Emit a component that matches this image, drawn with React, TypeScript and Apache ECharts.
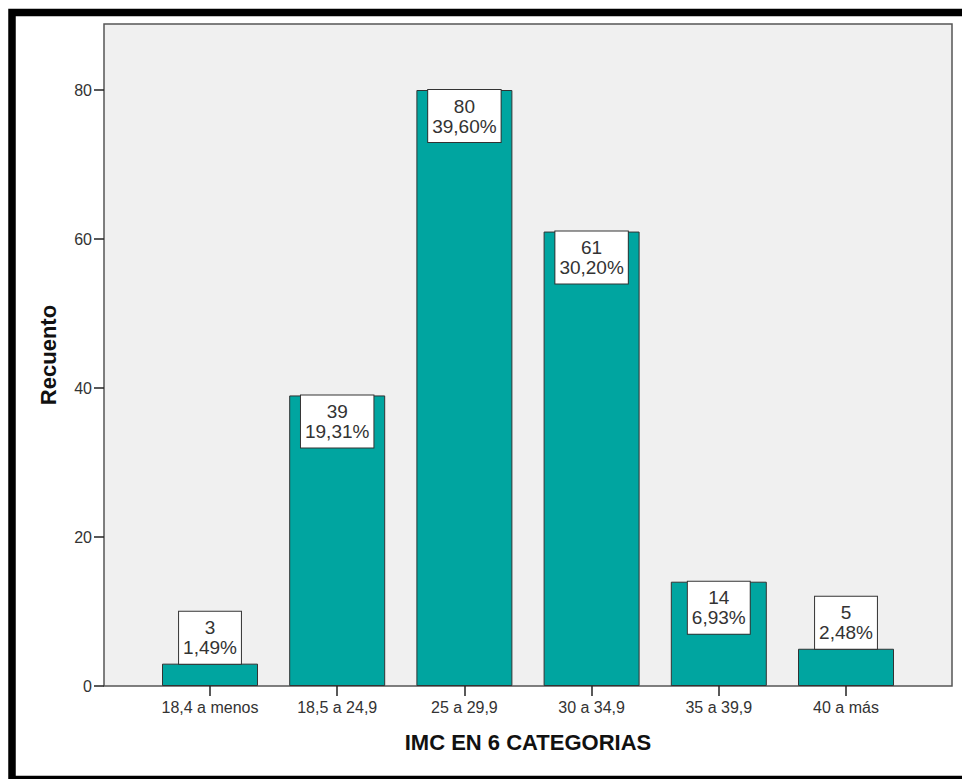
import React, { useEffect, useRef } from "react";
import * as echarts from "echarts";

// IMC categories and their counts / share of the total
const categories = ["18,4 a menos", "18,5 a 24,9", "25 a 29,9", "30 a 34,9", "35 a 39,9", "40 a más"];
const counts = [3, 39, 80, 61, 14, 5];
const percents = ["1,49%", "19,31%", "39,60%", "30,20%", "6,93%", "2,48%"];
const yTickValues = [0, 20, 40, 60, 80];

const yAxisTitle = "Recuento";
const xAxisTitle = "IMC EN 6 CATEGORIAS";

const FONT = "'Liberation Sans', Arial, Helvetica, sans-serif";
const BAR_COLOR = "#00a5a0";

export default function App() {
  const ref = useRef<HTMLDivElement>(null);

  useEffect(() => {
    if (!ref.current) return;
    const chart = echarts.init(ref.current, undefined, { renderer: "svg" });

    const plotLeft = 104;
    const plotRight = 952;
    const plotTop = 24;
    const plotBottom = 686;
    const W = 962;
    const H = 779;
    // categories sit inside the plot with an extra margin on both sides
    const sidePad = 42.4;

    const option: echarts.EChartsOption = {
      animation: false,
      backgroundColor: "#ffffff",
      textStyle: { fontFamily: FONT },
      grid: [
        {
          // framed plot background
          left: plotLeft,
          right: W - plotRight,
          top: plotTop,
          bottom: H - plotBottom,
          show: true,
          backgroundColor: "#f0f0f0",
          borderColor: "#555555",
          borderWidth: 1.5,
          z: 0,
        },
        {
          left: plotLeft + sidePad,
          right: W - plotRight + sidePad,
          top: plotTop,
          bottom: H - plotBottom,
        },
      ],
      xAxis: [
        { gridIndex: 0, type: "value", show: false, min: 0, max: 1 },
        {
          gridIndex: 1,
          type: "category",
          data: categories,
          axisLine: { show: false },
          axisTick: {
            show: true,
            alignWithLabel: true,
            length: 10,
            lineStyle: { color: "#222222", width: 1.5 },
          },
          axisLabel: {
            margin: 13,
            fontSize: 16,
            color: "#333333",
            fontFamily: FONT,
          },
          splitLine: { show: false },
        },
      ],
      yAxis: [
        { gridIndex: 0, type: "value", show: false, min: 0, max: 1 },
        {
          gridIndex: 1,
          type: "value",
          min: 0,
          max: 88.86,
          interval: 20,
          offset: sidePad,
          axisLine: { show: false },
          axisTick: {
            show: true,
            length: 10,
            customValues: yTickValues,
            lineStyle: { color: "#222222", width: 1.5 },
          },
          axisLabel: {
            margin: 12,
            fontSize: 16,
            color: "#333333",
            fontFamily: FONT,
            customValues: yTickValues,
          },
          splitLine: { show: false },
        },
      ],
      series: [
        {
          type: "bar",
          xAxisIndex: 1,
          yAxisIndex: 1,
          barWidth: 96,
          z: 3,
          itemStyle: {
            color: BAR_COLOR,
            borderColor: "#333333",
            borderWidth: 1,
          },
          data: counts.map((v, i) => ({
            value: v,
            label: {
              position: v >= 10 ? "insideTop" : "top",
              formatter: `${v}\n${percents[i]}`,
            },
          })),
          label: {
            show: true,
            distance: 0,
            fontSize: 19,
            lineHeight: 20,
            color: "#333333",
            fontFamily: FONT,
            backgroundColor: "#ffffff",
            borderColor: "#333333",
            borderWidth: 1,
            padding: [6, 4, 6, 4],
            align: "center",
          },
        },
      ],
      graphic: [
        {
          type: "rect",
          silent: true,
          shape: { x: 12, y: 12.5, width: 980, height: 767 },
          style: { fill: "none", stroke: "#000000", lineWidth: 7.5 },
          z: 10,
        },
        {
          type: "text",
          x: 48,
          y: (plotTop + plotBottom) / 2,
          rotation: Math.PI / 2,
          style: {
            text: yAxisTitle,
            fontSize: 22,
            fontWeight: "bold",
            fontFamily: FONT,
            fill: "#111111",
            align: "center",
            verticalAlign: "middle",
          },
        },
        {
          type: "text",
          x: (plotLeft + plotRight) / 2,
          y: 742,
          style: {
            text: xAxisTitle,
            fontSize: 22,
            fontWeight: "bold",
            fontFamily: FONT,
            fill: "#111111",
            align: "center",
            verticalAlign: "middle",
          },
        },
      ],
    };

    chart.setOption(option);
    return () => chart.dispose();
  }, []);

  return (
    <div
      ref={ref}
      style={{ position: "fixed", left: 0, top: 0, width: 962, height: 779, background: "#ffffff" }}
    />
  );
}
